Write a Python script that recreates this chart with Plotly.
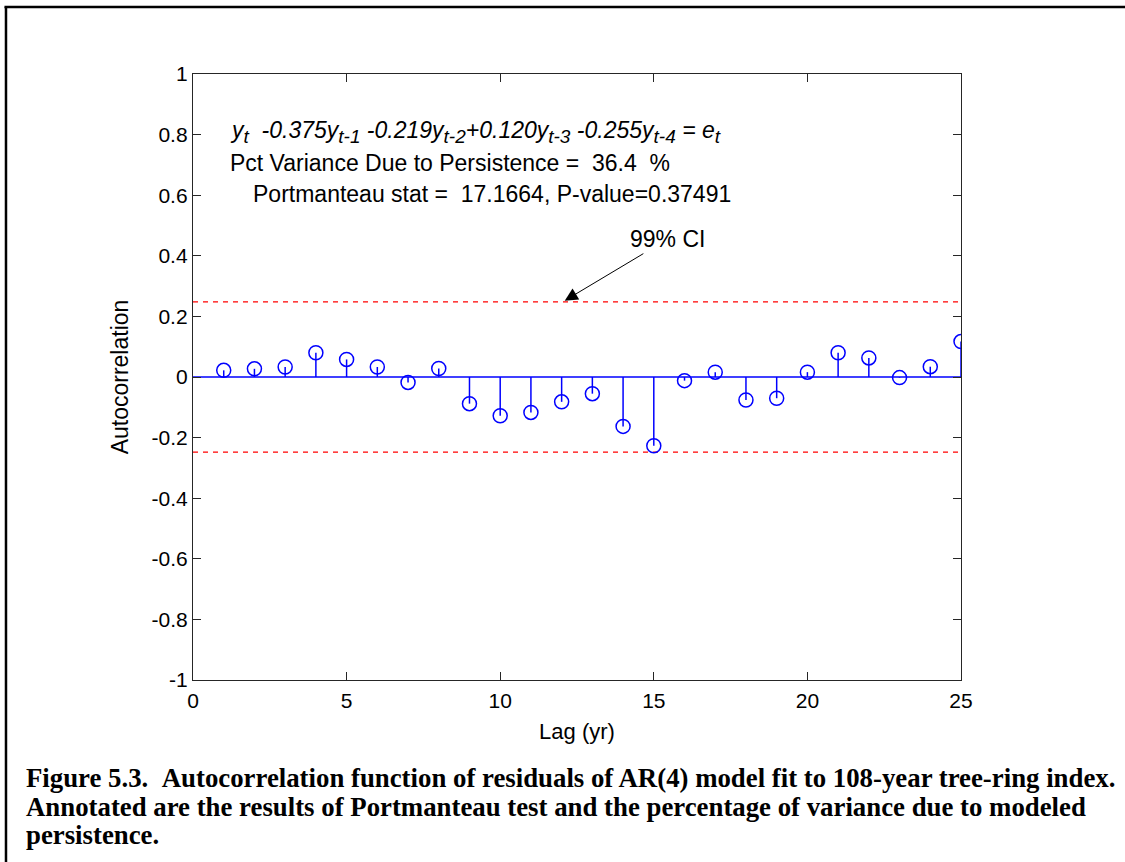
import plotly.graph_objects as go

# Residual autocorrelation of the AR(4) fit, lags 1..25
lags = list(range(1, 26))
acf = [0.022, 0.027, 0.033, 0.080, 0.058, 0.033, -0.018, 0.028,
       -0.088, -0.128, -0.117, -0.082, -0.055, -0.163, -0.227,
       -0.012, 0.016, -0.076, -0.070, 0.016, 0.080, 0.063,
       -0.002, 0.034, 0.117]
ci99 = 0.248  # 99% confidence limit

# AR(4) model summary
ar_coefs = [-0.375, -0.219, 0.120, -0.255]
pct_var = 36.4
q_stat = 17.1664
p_value = 0.37491

BLUE = "rgb(0,0,255)"
AXIS = "#262626"
FONT = "Liberation Sans, Arial, sans-serif"

fig = go.Figure()

# zero baseline
fig.add_trace(go.Scatter(x=[0, 25], y=[0, 0], mode="lines",
                         line=dict(color=BLUE, width=1.5),
                         hoverinfo="skip", showlegend=False))

# confidence limits
for s in (1, -1):
    fig.add_trace(go.Scatter(x=[0, 25], y=[s * ci99, s * ci99], mode="lines",
                             line=dict(color="rgb(255,0,0)", width=1.4, dash="5px,5px"),
                             hoverinfo="skip", showlegend=False))

# stems
sx, sy = [], []
for k, r in zip(lags, acf):
    sx += [k, k, None]
    sy += [0, r, None]
fig.add_trace(go.Scatter(x=sx, y=sy, mode="lines",
                         line=dict(color=BLUE, width=1.5),
                         hoverinfo="skip", showlegend=False))

# stem heads
fig.add_trace(go.Scatter(x=lags, y=acf, mode="markers",
                         marker=dict(symbol="circle-open", size=14,
                                     color=BLUE, line=dict(width=1.5, color=BLUE)),
                         showlegend=False))


def sub(s):
    return f"<sub><span style='font-size:19px'>{s}</span></sub>"


def term(c, k):
    sign = "+" if c >= 0 else "\u00a0-"
    return f"{sign}{abs(c):.3f}y{sub(f't-{k}')}"


eq = "<i>y" + sub("t") + "\u00a0\u00a0" + "".join(term(c, i + 1) for i, c in enumerate(ar_coefs)) \
     + " = e" + sub("t") + "</i>"
eq = eq.replace("\u00a0\u00a0\u00a0-", "\u00a0\u00a0-", 1)

txt_font = dict(family=FONT, size=23, color="black")
fig.add_annotation(x=1.15, y=0.81, xref="x", yref="y", text=eq, showarrow=False,
                   xanchor="left", yanchor="middle", font=txt_font)
fig.add_annotation(x=1.15, y=0.707, xref="x", yref="y",
                   text=f"Pct Variance Due to Persistence =\u00a0\u00a0{pct_var}\u00a0\u00a0%",
                   showarrow=False, xanchor="left", yanchor="middle", font=txt_font)
fig.add_annotation(x=1.9, y=0.605, xref="x", yref="y",
                   text=f"Portmanteau stat =\u00a0\u00a0{q_stat}, P-value={p_value}",
                   showarrow=False, xanchor="left", yanchor="middle", font=txt_font)

# label for the confidence line
fig.add_annotation(x=12.1, y=ci99 + 0.004, xref="x", yref="y",
                   ax=15.45, ay=0.455, axref="x", ayref="y",
                   text="99% CI", showarrow=True, arrowhead=2, arrowsize=2.6,
                   arrowwidth=1, arrowcolor="black", font=txt_font)

# figure caption
cap_font = dict(family="Liberation Serif, Times New Roman, serif", size=26.8, color="black")
caption = [
    "<b>Figure 5.3.\u00a0\u00a0Autocorrelation function of residuals of AR(4) model fit to 108-year tree-ring index.</b>",
    "<b>Annotated are the results of Portmanteau test and the percentage of variance due to modeled</b>",
    "<b>persistence.</b>",
]
for i, line in enumerate(caption):
    fig.add_annotation(x=-0.2205, y=-0.1617 - 0.0472 * i, xref="paper", yref="paper",
                       text=line, showarrow=False, xanchor="left", yanchor="middle",
                       font=cap_font)

# outer frame: left and top edges (right and bottom fall outside the page)
frame = dict(color="black", width=2.5)
fig.add_shape(type="line", xref="paper", yref="paper",
              x0=-0.2435, y0=-0.35, x1=-0.2435, y1=1.1105, line=frame, layer="above")
fig.add_shape(type="line", xref="paper", yref="paper",
              x0=-0.2455, y0=1.1105, x1=1.35, y1=1.1105, line=frame, layer="above")

axis_common = dict(showline=True, linecolor=AXIS, linewidth=1.3, mirror="ticks",
                   ticks="inside", ticklen=8, tickcolor=AXIS, tickwidth=1.3,
                   showgrid=False, zeroline=False,
                   tickfont=dict(family=FONT, size=21, color="black"))

fig.update_layout(
    width=1125, height=862,
    margin=dict(l=193, r=164, t=74, b=182),
    paper_bgcolor="white", plot_bgcolor="white",
    xaxis=dict(range=[0, 25], dtick=5, tick0=0, ticklabelstandoff=2,
               title=dict(text="Lag (yr)", font=dict(family=FONT, size=22, color="black"),
                          standoff=12),
               **axis_common),
    yaxis=dict(range=[-1, 1],
               tickvals=[-1, -0.8, -0.6, -0.4, -0.2, 0, 0.2, 0.4, 0.6, 0.8, 1],
               ticktext=["-1", "-0.8", "-0.6", "-0.4", "-0.2", "0", "0.2", "0.4", "0.6", "0.8", "1"],
               title=dict(text="Autocorrelation", font=dict(family=FONT, size=23, color="black"),
                          standoff=16),
               **axis_common),
)

fig.write_html("out.html")
